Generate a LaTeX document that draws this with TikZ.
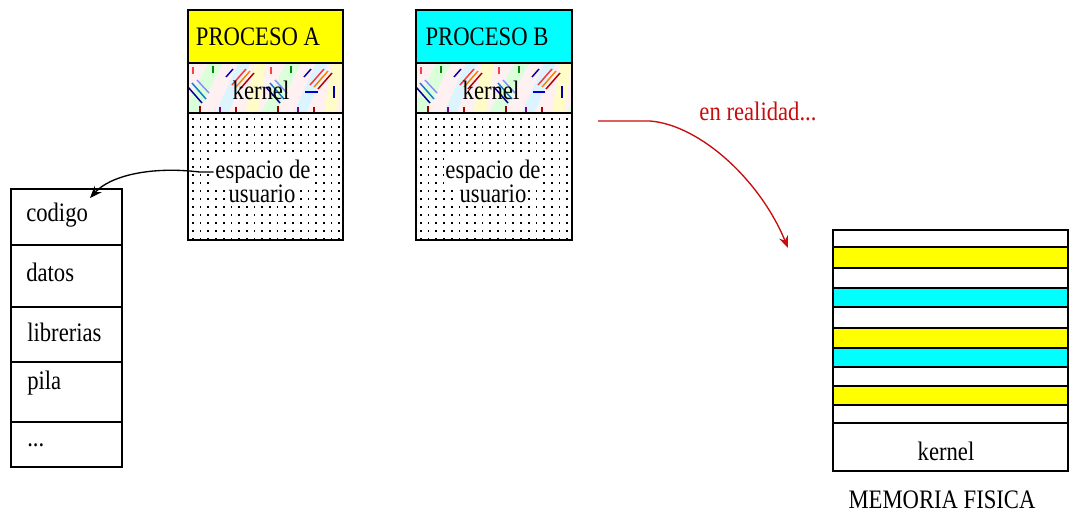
\documentclass[tikz,border=0pt]{standalone}
\usepackage{fontspec}
\setmainfont{Liberation Serif}[FakeStretch=0.85]
\usetikzlibrary{fit,arrows.meta}

\definecolor{memyellow}{RGB}{255,255,0}
\definecolor{memcyan}{RGB}{0,255,255}
\definecolor{arrowred}{RGB}{200,12,12}

\tikzset{
  part/.style={draw=black, line width=1.1pt, inner sep=0pt},
  lbl/.style={font=\fontsize{20}{22}\selectfont, inner sep=0pt},
  gap/.style={lbl, fill=white, inner sep=1.2pt},
  dotfill/.style={fill=black},
  hatch/.style={line width=1.1pt},
}

% one repeat of the multicoloured kernel hatch (pixel units, y downwards)
\newcommand\kerneltile{%
  \fill[pink!22] (0,0) rectangle (78,50);
  \fill[green!14] (20,0) -- (35,0) -- (10,50) -- (-5,50) -- cycle;
  \fill[cyan!14] (50,0) -- (62,0) -- (40,50) -- (28,50) -- cycle;
  \fill[yellow!22] (66,0) -- (78,0) -- (70,50) -- (58,50) -- cycle;
  \begin{scope}[hatch]
    \draw[red!75] (5,4) -- (5,11);
    \draw[green!55!black] (25,3) -- (25,10);
    \draw[blue!70!black] (38,14) -- (45,6);
    \draw[red!80] (44,22) -- (58,6);
    \draw[orange] (48,24) -- (62,8);
    \draw[red!70!black] (52,26) -- (66,10);
    \draw[blue!60!black] (0,24) -- (14,40);
    \draw[cyan!60!blue] (4,20) -- (18,36);
    \draw[blue!45] (9,17) -- (21,30);
    \draw[red!60!black] (12,43) -- (12,50);
    \draw[violet] (32,44) -- (32,50);
    \draw[red!70!black] (48,44) -- (48,50);
  \end{scope}
}

\begin{document}
\begin{tikzpicture}[x=0.75pt, y=-0.75pt]
  \useasboundingbox (0,0) rectangle (1070,519);

  % ---------- process A ----------
  \begin{scope}[shift={(188,63)}]
    \clip (0,0) rectangle (155,50);
    \foreach \t in {0,78,156} {
      \begin{scope}[shift={(\t,0)}] \kerneltile \end{scope}
    }
  \end{scope}
  \draw[hatch, blue!80!black] (305,92) -- (318,92);
  \draw[hatch, blue!70!black] (334,86) -- (334,98);
  \node[part, fill=memyellow, fit={(188,10) (343,63)}] (aTitle) {};
  \node[part, fit={(188,63) (343,113)}] (aKern) {};
  \node[part, fill=white, fit={(188,113) (343,240)}] (aUser) {};
  \begin{scope}
    \clip (190,115) rectangle (341,238);
    \foreach \i in {0,...,19} \foreach \j in {0,...,15}
      \fill[dotfill] ({192+\i*7.7},{118+\j*8}) rectangle ++(1.7,1.7);
  \end{scope}
  \node[lbl] (aTitleTxt) at (258,37) {PROCESO A};
  \node[lbl] (aKernTxt) at (261,90) {kernel};
  \node[gap] (aUs1) at (263,172) {espacio de};
  \node[gap] (aUs2) at (262,194) {usuario};

  % ---------- process B ----------
  \begin{scope}[shift={(416,63)}]
    \clip (0,0) rectangle (156,50);
    \foreach \t in {0,78,156} {
      \begin{scope}[shift={(\t,0)}] \kerneltile \end{scope}
    }
  \end{scope}
  \draw[hatch, blue!80!black] (533,92) -- (545,92);
  \draw[hatch, blue!70!black] (562,86) -- (562,98);
  \node[part, fill=memcyan, fit={(416,10) (572,63)}] (bTitle) {};
  \node[part, fit={(416,63) (572,113)}] (bKern) {};
  \node[part, fill=white, fit={(416,113) (572,240)}] (bUser) {};
  \begin{scope}
    \clip (418,115) rectangle (570,238);
    \foreach \i in {0,...,19} \foreach \j in {0,...,15}
      \fill[dotfill] ({420+\i*7.7},{118+\j*8}) rectangle ++(1.7,1.7);
  \end{scope}
  \node[lbl] (bTitleTxt) at (487,37) {PROCESO B};
  \node[lbl] (bKernTxt) at (491,90) {kernel};
  \node[gap] (bUs1) at (493,172) {espacio de};
  \node[gap] (bUs2) at (493,194) {usuario};

  % ---------- user space layout ----------
  \node[part, fit={(11,189) (122,245)}] (lCod) {};
  \node[part, fit={(11,245) (122,307)}] (lDat) {};
  \node[part, fit={(11,307) (122,362)}] (lLib) {};
  \node[part, fit={(11,362) (122,422)}] (lPil) {};
  \node[part, fit={(11,422) (122,467)}] (lEtc) {};
  \node[lbl, anchor=west] (lCodTxt) at (26,215) {codigo};
  \node[lbl, anchor=west] (lDatTxt) at (26,272) {datos};
  \node[lbl, anchor=west] (lLibTxt) at (27,332) {librerias};
  \node[lbl, anchor=west] (lPilTxt) at (27,383) {pila};
  \node[lbl, anchor=west] (lEtcTxt) at (27,445) {...};

  \coordinate (codTip) at (90,198);
  \draw[line width=1pt, -{Stealth[length=9pt,width=7pt]}]
    (aUs1.west) -- ++(-14,0) .. controls (150,166) and (110,176) .. (codTip);

  % ---------- physical memory ----------
  \node[part, fill=white,      fit={(833,230) (1068,247)}] (m1) {};
  \node[part, fill=memyellow,  fit={(833,247) (1068,268)}] (m2) {};
  \node[part, fill=white,      fit={(833,268) (1068,288)}] (m3) {};
  \node[part, fill=memcyan,    fit={(833,288) (1068,307)}] (m4) {};
  \node[part, fill=white,      fit={(833,307) (1068,328)}] (m5) {};
  \node[part, fill=memyellow,  fit={(833,328) (1068,348)}] (m6) {};
  \node[part, fill=memcyan,    fit={(833,348) (1068,367)}] (m7) {};
  \node[part, fill=white,      fit={(833,367) (1068,386)}] (m8) {};
  \node[part, fill=memyellow,  fit={(833,386) (1068,405)}] (m9) {};
  \node[part, fill=white,      fit={(833,405) (1068,423)}] (m10) {};
  \node[part, fill=white,      fit={(833,423) (1068,471)}] (mKern) {};
  \node[lbl] (mKernTxt) at (946,451) {kernel};
  \node[lbl] (mCaption) at (942,500) {MEMORIA FISICA};

  % ---------- "in reality" arrow ----------
  \node[lbl, text=arrowred] (realTxt) at (758,111) {en realidad...};
  \coordinate (redStart) at (598,121);
  \coordinate (redTip) at (788,248);
  \draw[arrowred, line width=1pt, -{Stealth[length=9pt,width=7pt]}]
    (redStart) -- ++(52,0) .. controls (700,125) and (760,180) .. (redTip);
\end{tikzpicture}
\end{document}
